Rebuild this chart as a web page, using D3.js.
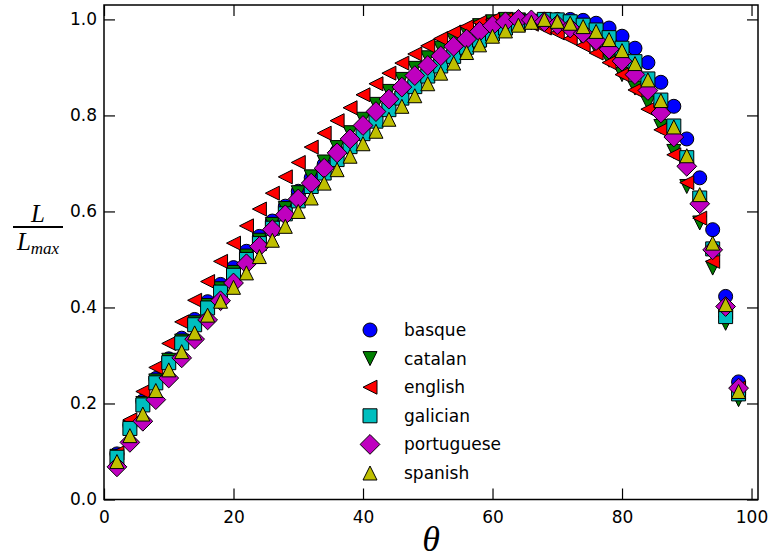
<!DOCTYPE html>
<html>
<head>
<meta charset="utf-8">
<script src="https://cdn.jsdelivr.net/npm/d3@7"></script>
<style>
  body { margin: 0; background: #fff; }
  svg { display: block; }
</style>
</head>
<body>
<div id="chart"></div>
<script>
// angle values on the x axis
const thetas = [2, 4, 6, 8, 10, 12, 14, 16, 18, 20, 22, 24, 26, 28, 30, 32, 34, 36, 38, 40,
  42, 44, 46, 48, 50, 52, 54, 56, 58, 60, 62, 64, 66, 68, 70, 72, 74, 76, 78, 80,
  82, 84, 86, 88, 90, 92, 94, 96, 98];

const basque = [0.095, 0.155, 0.205, 0.252, 0.293, 0.336, 0.375, 0.412, 0.448, 0.483, 0.517, 0.548, 0.580, 0.611, 0.642, 0.670, 0.698, 0.725, 0.751, 0.776,
  0.800, 0.823, 0.845, 0.866, 0.886, 0.905, 0.922, 0.937, 0.950, 0.968, 0.983, 0.991, 0.997, 1.0, 1.0, 1.0, 0.998, 0.992, 0.982, 0.965,
  0.940, 0.910, 0.869, 0.819, 0.751, 0.670, 0.562, 0.423, 0.245];
const catalan = [0.090, 0.150, 0.200, 0.247, 0.290, 0.330, 0.368, 0.404, 0.439, 0.473, 0.507, 0.540, 0.573, 0.606, 0.639, 0.672, 0.703, 0.733, 0.764, 0.792,
  0.823, 0.850, 0.875, 0.898, 0.920, 0.940, 0.958, 0.973, 0.987, 0.995, 1.0, 0.999, 0.995, 0.990, 0.982, 0.972, 0.958, 0.940, 0.915, 0.885,
  0.857, 0.826, 0.777, 0.725, 0.652, 0.576, 0.482, 0.367, 0.208];
const english = [0.097, 0.166, 0.225, 0.275, 0.325, 0.370, 0.415, 0.454, 0.496, 0.534, 0.570, 0.605, 0.638, 0.672, 0.702, 0.734, 0.763, 0.789, 0.816, 0.843,
  0.866, 0.888, 0.909, 0.928, 0.945, 0.960, 0.973, 0.985, 0.994, 0.999, 1.0, 0.997, 0.990, 0.982, 0.972, 0.960, 0.946, 0.930, 0.910, 0.885,
  0.853, 0.813, 0.770, 0.718, 0.660, 0.586, 0.496, 0.390, 0.232];
const galician = [0.088, 0.148, 0.197, 0.243, 0.285, 0.326, 0.364, 0.399, 0.432, 0.467, 0.500, 0.533, 0.565, 0.595, 0.622, 0.652, 0.680, 0.708, 0.735, 0.762,
  0.788, 0.812, 0.836, 0.860, 0.882, 0.903, 0.923, 0.942, 0.957, 0.970, 0.982, 0.990, 0.996, 1.0, 0.999, 0.995, 0.988, 0.978, 0.962, 0.940,
  0.912, 0.876, 0.832, 0.778, 0.712, 0.628, 0.522, 0.381, 0.220];
const portuguese = [0.068, 0.119, 0.163, 0.208, 0.253, 0.295, 0.334, 0.374, 0.414, 0.451, 0.491, 0.527, 0.562, 0.593, 0.626, 0.659, 0.690, 0.722, 0.751, 0.779,
  0.808, 0.834, 0.859, 0.883, 0.904, 0.924, 0.944, 0.959, 0.975, 0.987, 0.995, 1.0, 0.999, 0.995, 0.989, 0.982, 0.971, 0.956, 0.938, 0.913,
  0.885, 0.852, 0.805, 0.755, 0.694, 0.616, 0.520, 0.402, 0.232];
const spanish = [0.079, 0.133, 0.178, 0.227, 0.270, 0.308, 0.347, 0.384, 0.413, 0.442, 0.472, 0.506, 0.540, 0.569, 0.600, 0.628, 0.659, 0.687, 0.715, 0.741,
  0.767, 0.792, 0.819, 0.841, 0.866, 0.888, 0.909, 0.931, 0.947, 0.965, 0.976, 0.988, 0.994, 1.0, 0.996, 0.992, 0.985, 0.975, 0.958, 0.935,
  0.908, 0.874, 0.831, 0.776, 0.716, 0.635, 0.534, 0.406, 0.225];

const languages = ['basque', 'catalan', 'english', 'galician', 'portuguese', 'spanish'];
const seriesValues = [basque, catalan, english, galician, portuguese, spanish];
const colors = ['#0000ff', '#007f00', '#ff0000', '#00bfbf', '#bf00bf', '#bfbf00'];
const shapes = ['circle', 'down', 'left', 'square', 'diamond', 'up'];

const xTicks = [0, 20, 40, 60, 80, 100];
const yTicks = [0, 0.2, 0.4, 0.6, 0.8, 1.0];

const width = 772;
const height = 558;
const plot = { left: 104, right: 758, top: 5, bottom: 499.5 };

const svg = d3
  .select('#chart')
  .append('svg')
  .attr('width', width)
  .attr('height', height);

const x = d3.scaleLinear().domain([0, 101]).range([plot.left, plot.right]);
const y = d3.scaleLinear().domain([0, 1.03]).range([plot.bottom, plot.top]);

// marker outlines, half size h, like the matplotlib markers
const markerPath = (shape, h) => {
  if (shape === 'circle') return d3.symbol(d3.symbolCircle, Math.PI * h * h)();
  const pts = {
    down: [[0, h], [-h, -h], [h, -h]],
    up: [[0, -h], [-h, h], [h, h]],
    left: [[-h, 0], [h, -h], [h, h]],
    square: [[-h, -h], [h, -h], [h, h], [-h, h]],
    diamond: [[0, -h * Math.SQRT2], [h * Math.SQRT2, 0], [0, h * Math.SQRT2], [-h * Math.SQRT2, 0]],
  }[shape];
  return d3.line()(pts) + 'Z';
};

const ms = 7;

// the points
seriesValues.forEach((vals, i) => {
  svg
    .append('g')
    .selectAll('path')
    .data(vals)
    .enter()
    .append('path')
    .attr('d', markerPath(shapes[i], ms))
    .attr('transform', (d, j) => `translate(${x(thetas[j])},${y(d)})`)
    .attr('fill', colors[i])
    .attr('stroke', '#000')
    .attr('stroke-width', 1);
});

// axes, ticks pointing inward on all four sides
const styleAxis = (g) => {
  g.select('.domain').remove();
  g.selectAll('.tick line').attr('stroke', '#000').attr('stroke-width', 1.2);
  g.selectAll('.tick text').attr('fill', '#000').style('font-family', 'DejaVu Sans').style('font-size', '17px');
};

svg
  .append('g')
  .attr('transform', `translate(0,${plot.bottom})`)
  .call(d3.axisBottom(x).tickValues(xTicks).tickFormat(d3.format('d')).tickSizeInner(-11).tickSizeOuter(0).tickPadding(11))
  .call(styleAxis);
svg
  .append('g')
  .attr('transform', `translate(0,${plot.top})`)
  .call(d3.axisTop(x).tickValues(xTicks).tickFormat('').tickSizeInner(-11).tickSizeOuter(0))
  .call(styleAxis);
svg
  .append('g')
  .attr('transform', `translate(${plot.left},0)`)
  .call(d3.axisLeft(y).tickValues(yTicks).tickFormat(d3.format('.1f')).tickSizeInner(-11).tickSizeOuter(0).tickPadding(7))
  .call(styleAxis);
svg
  .append('g')
  .attr('transform', `translate(${plot.right},0)`)
  .call(d3.axisRight(y).tickValues(yTicks).tickFormat('').tickSizeInner(-11).tickSizeOuter(0))
  .call(styleAxis);

// frame
svg
  .append('rect')
  .attr('x', plot.left)
  .attr('y', plot.top)
  .attr('width', plot.right - plot.left)
  .attr('height', plot.bottom - plot.top)
  .attr('fill', 'none')
  .attr('stroke', '#000')
  .attr('stroke-width', 1.5);

// x label
svg
  .append('text')
  .attr('x', (plot.left + plot.right) / 2)
  .attr('y', 551)
  .attr('text-anchor', 'middle')
  .style('font-family', 'Liberation Serif')
  .style('font-style', 'italic')
  .style('font-size', '36px')
  .text('θ');

// y label as a fraction L / L_max
const ylab = svg.append('g').style('font-family', 'Liberation Serif').style('font-style', 'italic');
ylab.append('text').attr('x', 38).attr('y', 222).attr('text-anchor', 'middle').style('font-size', '25px').text('L');
ylab.append('line').attr('x1', 13).attr('x2', 63).attr('y1', 227).attr('y2', 227).attr('stroke', '#000').attr('stroke-width', 2);
const den = ylab.append('text').attr('x', 38).attr('y', 250).attr('text-anchor', 'middle').style('font-size', '25px');
den.append('tspan').text('L');
den.append('tspan').attr('dy', 4).style('font-size', '17px').text('max');

// legend
const legend = svg.append('g').attr('transform', 'translate(370,330)');
languages.forEach((name, i) => {
  const row = legend.append('g').attr('transform', `translate(0,${i * 28.6})`);
  row
    .append('path')
    .attr('d', markerPath(shapes[i], ms))
    .attr('fill', colors[i])
    .attr('stroke', '#000')
    .attr('stroke-width', 1);
  row
    .append('text')
    .attr('x', 34)
    .attr('y', 0)
    .attr('dy', '0.35em')
    .style('font-family', 'DejaVu Sans')
    .style('font-size', '17px')
    .text(name);
});
</script>
</body>
</html>
